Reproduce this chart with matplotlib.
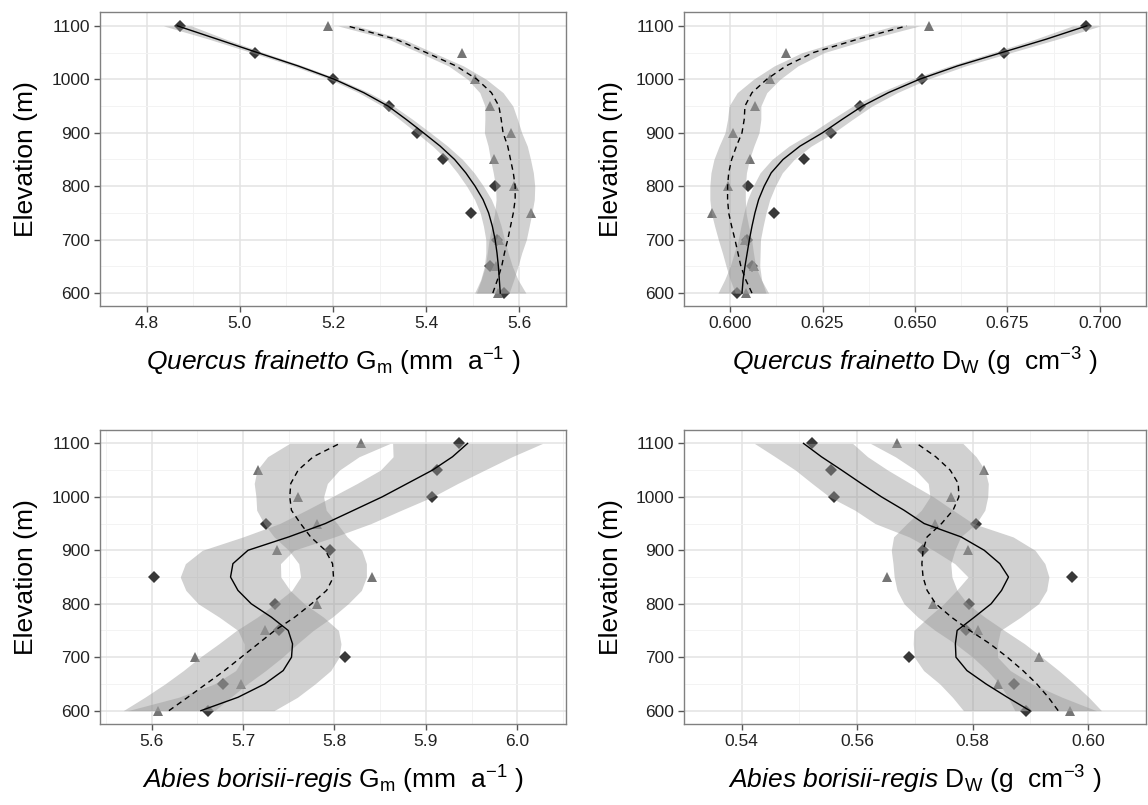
import matplotlib
matplotlib.use('Agg')
import matplotlib.pyplot as plt
import numpy as np

# elevation of the sampled plots and of the smoothed curves
elev = [600, 650, 700, 750, 800, 850, 900, 950, 1000, 1050, 1100]
elev_fit = [600, 625, 650, 675, 700, 725, 750, 775, 800, 825, 850,
            875, 900, 925, 950, 975, 1000, 1025, 1050, 1075, 1100]

# Quercus frainetto Gm
qf_gm_dia = [5.568, 5.537, 5.553, 5.496, 5.548, 5.436, 5.381, 5.321, 5.200, 5.032, 4.872]
qf_gm_tri = [5.555, 5.550, 5.556, 5.624, 5.589, 5.546, 5.582, 5.537, 5.504, 5.477, 5.190]
qf_gm_solid = [5.559, 5.557, 5.555, 5.552, 5.548, 5.542, 5.534, 5.522, 5.505, 5.485, 5.461,
               5.430, 5.394, 5.357, 5.318, 5.266, 5.203, 5.125, 5.038, 4.952, 4.866]
qf_gm_solid_se = [0.055, 0.040, 0.030, 0.024, 0.020, 0.019, 0.018, 0.018, 0.018, 0.018, 0.017,
                  0.016, 0.015, 0.014, 0.012, 0.011, 0.010, 0.011, 0.013, 0.018, 0.030]
qf_gm_dash = [5.543, 5.553, 5.562, 5.568, 5.575, 5.581, 5.587, 5.591, 5.591, 5.587, 5.581,
              5.575, 5.565, 5.561, 5.556, 5.540, 5.509, 5.464, 5.400, 5.335, 5.230]
qf_gm_dash_se = [0.035, 0.035, 0.035, 0.037, 0.040, 0.040, 0.040, 0.041, 0.042, 0.043, 0.043,
                 0.042, 0.040, 0.035, 0.030, 0.025, 0.020, 0.016, 0.015, 0.016, 0.020]

# Quercus frainetto Dw
qf_dw_dia = [0.6019, 0.6058, 0.6045, 0.6119, 0.6049, 0.6200, 0.6273, 0.6351, 0.6518, 0.6742, 0.6963]
qf_dw_tri = [0.6042, 0.6065, 0.6040, 0.5951, 0.5993, 0.6055, 0.6007, 0.6066, 0.6108, 0.6150, 0.6538]
qf_dw_solid = [0.6032, 0.6035, 0.6040, 0.6046, 0.6052, 0.6059, 0.6067, 0.6077, 0.6092, 0.6111, 0.6143,
               0.6189, 0.6250, 0.6303, 0.6358, 0.6428, 0.6512, 0.6615, 0.6735, 0.6855, 0.6965]
qf_dw_solid_se = [0.0065, 0.0050, 0.0040, 0.0035, 0.0030, 0.0030, 0.0030, 0.0030, 0.0030, 0.0030, 0.0030,
                  0.0030, 0.0030, 0.0028, 0.0026, 0.0024, 0.0022, 0.0022, 0.0025, 0.0030, 0.0038]
qf_dw_dash = [0.6059, 0.6042, 0.6029, 0.6021, 0.6013, 0.6004, 0.5996, 0.5993, 0.5993, 0.5996, 0.6004,
              0.6017, 0.6032, 0.6038, 0.6040, 0.6059, 0.6099, 0.6151, 0.6225, 0.6345, 0.6478]
qf_dw_dash_se = [0.0045, 0.0042, 0.0040, 0.0042, 0.0045, 0.0046, 0.0047, 0.0048, 0.0048, 0.0048, 0.0048,
                 0.0047, 0.0046, 0.0045, 0.0043, 0.0040, 0.0036, 0.0032, 0.0030, 0.0030, 0.0035]

# Abies borisii-regis Gm
ab_gm_dia = [5.6615, 5.678, 5.8121, 5.7392, 5.7348, 5.6022, 5.795, 5.7253, 5.9066, 5.9117, 5.9366]
ab_gm_tri = [5.6066, 5.6981, 5.6476, 5.7245, 5.7809, 5.8407, 5.7377, 5.7809, 5.7597, 5.7165, 5.8286]
ab_gm_solid = [5.654, 5.6945, 5.7238, 5.744, 5.7531, 5.7542, 5.7495, 5.731, 5.709, 5.6945, 5.6864,
               5.689, 5.7055, 5.750, 5.790, 5.8212, 5.8523, 5.8798, 5.9073, 5.9292, 5.9457]
ab_gm_solid_se = [0.080, 0.065, 0.055, 0.052, 0.052, 0.053, 0.055, 0.057, 0.058, 0.057, 0.055,
                  0.052, 0.050, 0.050, 0.050, 0.052, 0.055, 0.055, 0.057, 0.065, 0.082]
ab_gm_dash = [5.619, 5.6396, 5.6597, 5.6798, 5.6981, 5.7165, 5.7348, 5.7567, 5.775, 5.7915, 5.799,
              5.798, 5.790, 5.774, 5.763, 5.753, 5.7512, 5.7523, 5.7604, 5.7769, 5.806]
ab_gm_dash_se = [0.050, 0.047, 0.045, 0.045, 0.045, 0.043, 0.042, 0.041, 0.040, 0.038, 0.036,
                 0.037, 0.040, 0.040, 0.040, 0.038, 0.037, 0.040, 0.045, 0.050, 0.055]

# Abies borisii-regis Dw
ab_dw_dia = [0.5892, 0.5872, 0.5689, 0.5789, 0.5793, 0.5972, 0.5714, 0.5806, 0.5560, 0.5555, 0.5521]
ab_dw_tri = [0.5968, 0.5844, 0.5914, 0.5809, 0.5732, 0.5652, 0.5791, 0.5735, 0.5762, 0.5819, 0.5669]
ab_dw_solid = [0.5899, 0.5860, 0.5823, 0.5790, 0.5771, 0.5770, 0.5773, 0.5803, 0.5832, 0.5850, 0.5862,
               0.5847, 0.5820, 0.5780, 0.5716, 0.5681, 0.5642, 0.5607, 0.5573, 0.5538, 0.5507]
ab_dw_solid_se = [0.0115, 0.0095, 0.0080, 0.0075, 0.0072, 0.0073, 0.0075, 0.0080, 0.0082, 0.0078, 0.0070,
                  0.0078, 0.0088, 0.0090, 0.0085, 0.0085, 0.0090, 0.0085, 0.0080, 0.0080, 0.0085]
ab_dw_dash = [0.5948, 0.5931, 0.5911, 0.5887, 0.5860, 0.5830, 0.5795, 0.5763, 0.5736, 0.5721, 0.5714,
              0.5712, 0.5714, 0.5721, 0.5746, 0.5766, 0.5776, 0.5775, 0.5761, 0.5736, 0.5703]
ab_dw_dash_se = [0.0075, 0.0070, 0.0065, 0.0062, 0.0060, 0.0060, 0.0060, 0.0058, 0.0055, 0.0052, 0.0050,
                 0.0050, 0.0055, 0.0058, 0.0060, 0.0055, 0.0050, 0.0052, 0.0060, 0.0070, 0.0080]

y_ticks = [600, 700, 800, 900, 1000, 1100]

plt.rcParams['font.family'] = ['Liberation Sans', 'DejaVu Sans']
plt.rcParams['mathtext.fontset'] = 'custom'
plt.rcParams['mathtext.rm'] = 'Liberation Sans'
plt.rcParams['mathtext.it'] = 'Liberation Sans:italic'

fig = plt.figure(figsize=(11.48, 8.05), dpi=100)

panels = [
    ([0.0871, 0.6193, 0.4059, 0.3652], qf_gm_dia, qf_gm_tri, qf_gm_solid, qf_gm_solid_se,
     qf_gm_dash, qf_gm_dash_se, (4.79, 5.668), [4.8, 5.0, 5.2, 5.4, 5.6], '%.1f',
     r'$\mathit{Quercus\ frainetto}$ G$_\mathrm{m}$ (mm  a$^{-1}$ )'),
    ([0.5958, 0.6193, 0.4024, 0.3652], qf_dw_dia, qf_dw_tri, qf_dw_solid, qf_dw_solid_se,
     qf_dw_dash, qf_dw_dash_se, (0.5895, 0.7062), [0.600, 0.625, 0.650, 0.675, 0.700], '%.3f',
     r'$\mathit{Quercus\ frainetto}$ D$_\mathrm{W}$ (g  cm$^{-3}$ )'),
    ([0.0871, 0.1006, 0.4059, 0.3652], ab_gm_dia, ab_gm_tri, ab_gm_solid, ab_gm_solid_se,
     ab_gm_dash, ab_gm_dash_se, (5.5436, 6.0533), [5.6, 5.7, 5.8, 5.9, 6.0], '%.1f',
     r'$\mathit{Abies\ borisii}$-$\mathit{regis}$ G$_\mathrm{m}$ (mm  a$^{-1}$ )'),
    ([0.5958, 0.1006, 0.4024, 0.3652], ab_dw_dia, ab_dw_tri, ab_dw_solid, ab_dw_solid_se,
     ab_dw_dash, ab_dw_dash_se, (0.5368, 0.6055), [0.54, 0.56, 0.58, 0.60], '%.2f',
     r'$\mathit{Abies\ borisii}$-$\mathit{regis}$ D$_\mathrm{W}$ (g  cm$^{-3}$ )'),
]

for pos, dia, tri, solid, solid_se, dash, dash_se, xlim, xticks, fmt, xlabel in panels:
    ax = fig.add_axes(pos)
    ax.set_facecolor('white')

    # points first, ribbons over them, then the fitted lines
    ax.plot(dia, elev, 'D', color='#383838', ms=6.3, mew=0, zorder=2)
    ax.plot(tri, elev, '^', color='#757575', ms=7.5, mew=0, zorder=2)
    s, sse = np.array(solid), np.array(solid_se)
    d, dse = np.array(dash), np.array(dash_se)
    ax.fill_betweenx(elev_fit, s - sse, s + sse, color='#999999', alpha=0.45, lw=0, zorder=3)
    ax.fill_betweenx(elev_fit, d - dse, d + dse, color='#999999', alpha=0.45, lw=0, zorder=3)
    ax.plot(solid, elev_fit, '-', color='black', lw=1.0, zorder=4)
    ax.plot(dash, elev_fit, '--', color='black', lw=1.0, dashes=(4, 3), zorder=4)

    ax.set_xlim(*xlim)
    ax.set_ylim(575, 1125)
    ax.set_xticks(xticks)
    ax.set_xticklabels([fmt % v for v in xticks])
    ax.set_yticks(y_ticks)
    minor_x = [(a + b) / 2 for a, b in zip(xticks[:-1], xticks[1:])]
    step = xticks[1] - xticks[0]
    minor_x = [xticks[0] - step / 2] + minor_x + [xticks[-1] + step / 2]
    ax.set_xticks(minor_x, minor=True)
    ax.set_yticks([650, 750, 850, 950, 1050], minor=True)
    ax.grid(which='major', color='#e3e3e3', lw=1.1, zorder=0)
    ax.grid(which='minor', color='#f3f3f3', lw=0.7, zorder=0)
    ax.set_axisbelow(True)
    ax.tick_params(which='major', direction='out', length=4, width=1, color='#555555',
                   labelsize=12.5, labelcolor='#222222', pad=3)
    ax.tick_params(which='minor', length=0)
    for sp in ax.spines.values():
        sp.set_color('#808080')
        sp.set_linewidth(1.0)

    ax.set_xlabel(xlabel, fontsize=19)
    ax.xaxis.set_label_coords(0.5, -0.19)
    ax.xaxis.label.set_va('center')
    ax.set_ylabel('Elevation (m)', fontsize=19)
    ax.yaxis.set_label_coords(-0.158, 0.5)
    ax.yaxis.label.set_va('center')

fig.savefig('out.png', dpi=100)
